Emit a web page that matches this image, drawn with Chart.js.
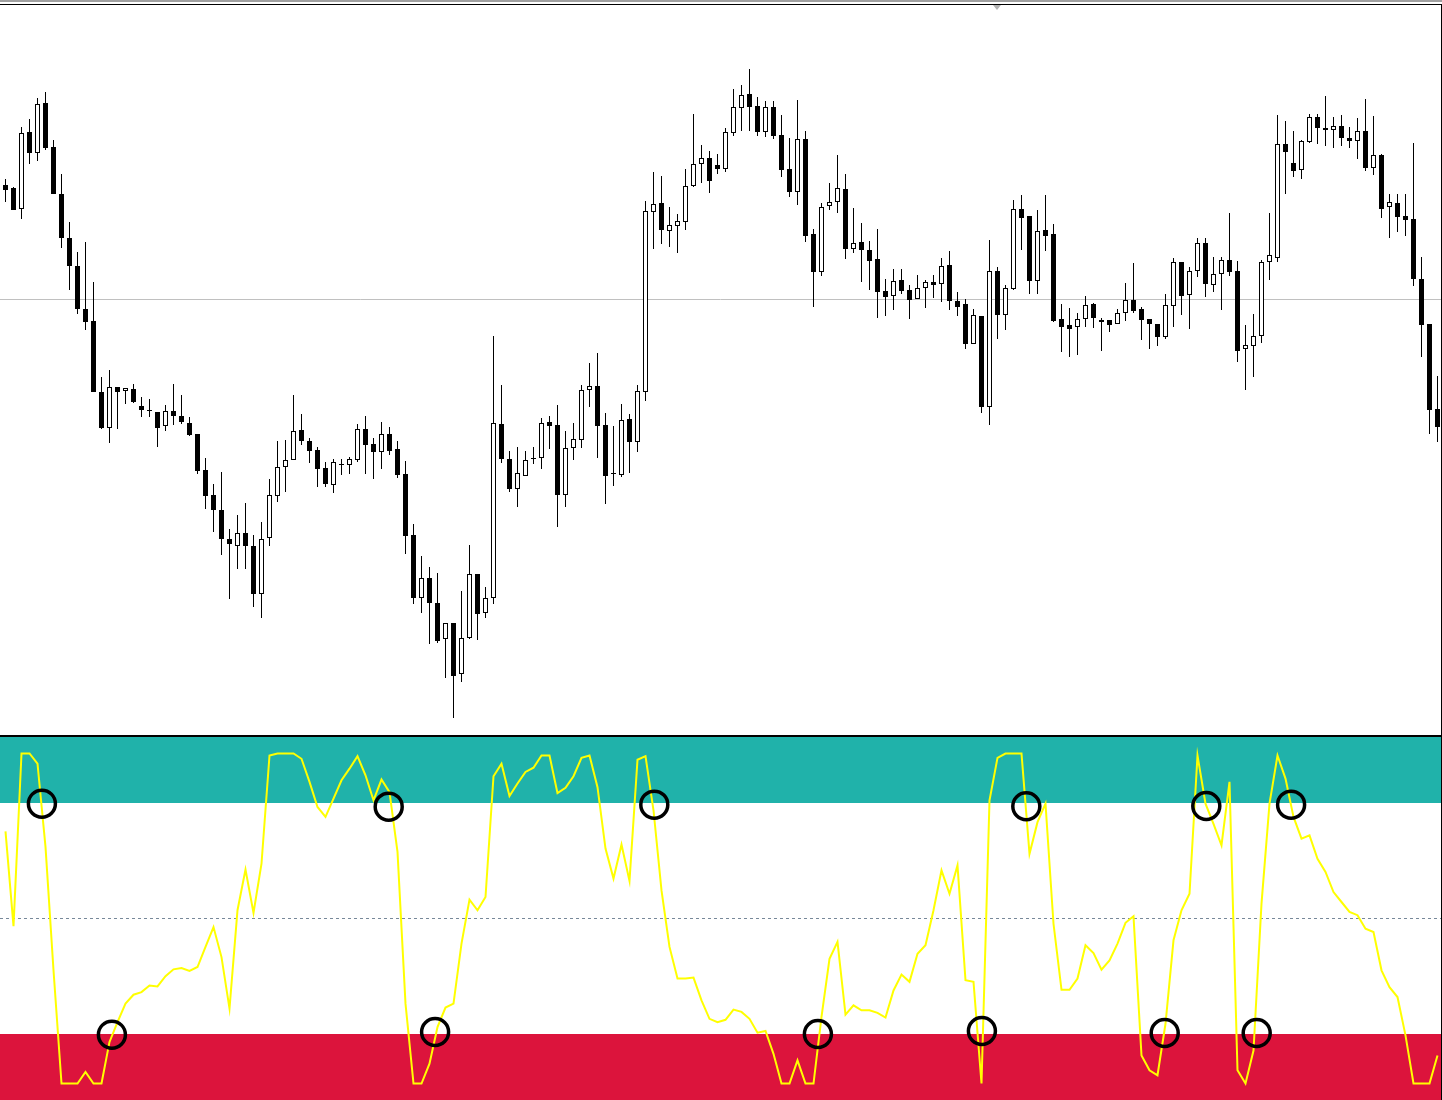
<!DOCTYPE html>
<html>
<head>
<meta charset="utf-8">
<title>Candles and oscillator</title>
<script src="https://cdn.jsdelivr.net/npm/chart.js@4.4.0/dist/chart.umd.min.js"></script>
<style>
  body { margin: 0; background: #fff; width: 1442px; height: 1100px; overflow: hidden; position: relative; }
  .frame-top { position: absolute; left: 0; top: 0; width: 1442px; height: 2px; background: #a0a0a0; }
  .frame-line { position: absolute; left: 0; top: 4px; width: 1442px; height: 1px; background: #000; }
  .frame-right { position: absolute; left: 1441px; top: 4px; width: 1px; height: 1096px; background: #000; }
  .separator { position: absolute; left: 0; top: 735px; width: 1442px; height: 2px; background: #000; }
  .shift-mark { position: absolute; left: 993px; top: 5px; width: 0; height: 0;
    border-left: 4px solid transparent; border-right: 4px solid transparent; border-top: 5px solid #b4b4b4; }
  #price { position: absolute; left: 0; top: 5px; }
  #osc { position: absolute; left: 0; top: 737px; }
</style>
</head>
<body>
<div class="frame-top"></div>
<div class="frame-line"></div>
<div class="shift-mark"></div>
<canvas id="price" width="1441" height="730"></canvas>
<div class="separator"></div>
<canvas id="osc" width="1441" height="363"></canvas>
<div class="frame-right"></div>
<script>
// candles, one per bar (price in points)
const openPrices = [550,547,526,603,582,632,588,541,497,469, 426,414,343,307,348,344,346,329,324,323, 309,324,319,312,301,265,240,225,196,189, 202,189,141,197,239,268,275,305,294,285, 267,250,270,270,275,306,291,283,301,286, 261,200,137,157,132,96,112,61,97,161, 122,137,311,276,246,259,276,277,313,310, 240,287,295,345,349,310,261,260,316,293, 343,523,532,504,509,513,549,571,577,570, 566,602,627,641,629,603,628,600,566,543, 596,501,463,529,533,546,486,493,485,476, 444,439,455,445,436,447,453,451,470,434, 431,391,419,328,464,420,446,526,519,454, 505,501,416,410,408,416,431,413,415,411, 422,435,426,416,411,398,429,473,440,464, 492,450,461,475,464,386,389,399,473,477, 591,572,565,593,618,607,605,609,597,594, 604,567,580,528,532,519,516,456,411,326];
const highPrices = [556,548,608,616,637,643,595,561,513,483, 493,453,358,365,348,347,351,338,336,323, 330,351,340,318,301,277,251,263,206,220, 232,200,213,256,294,295,340,321,297,288, 273,276,276,278,311,319,297,313,308,294, 274,211,179,168,162,112,112,144,190,161, 148,399,350,284,288,284,288,317,319,330, 304,312,350,372,382,322,309,331,321,350, 534,563,559,528,521,566,621,590,584,581, 607,646,650,666,638,634,634,620,597,635, 604,506,532,552,580,561,527,512,494,506, 456,466,466,450,460,455,460,477,484,443, 436,426,419,495,468,450,535,540,519,525, 540,511,431,427,422,439,432,417,415,426, 452,472,428,416,411,441,477,473,468,497, 497,478,478,522,474,410,421,475,522,620, 614,604,595,621,621,639,618,620,608,617, 636,619,581,541,541,541,592,478,411,359];
const lowPrices = [533,525,516,571,574,585,541,487,445,421, 405,343,306,292,306,331,332,318,318,288, 304,310,311,299,261,226,203,180,136,166, 166,128,117,189,233,243,275,290,272,248, 248,242,260,261,273,261,256,266,280,257, 181,131,122,91,92,57,17,53,96,95, 117,131,272,243,228,259,271,266,286,208, 228,275,287,328,277,231,249,258,262,283, 334,486,491,488,482,505,548,552,542,561, 563,599,604,604,599,598,596,558,538,530, 493,428,459,525,522,476,482,453,445,417, 419,425,441,416,436,427,437,433,425,419, 386,391,322,310,396,405,445,485,441,441, 484,413,383,378,380,408,407,384,403,411, 414,422,395,386,389,396,408,420,406,458, 438,443,425,459,373,345,358,392,455,473, 541,558,556,592,591,589,587,589,587,576, 564,560,517,497,503,499,449,378,301,293];
const closePrices = [545,525,602,582,631,587,541,497,469,426, 413,343,307,348,343,347,333,325,324,307, 324,319,313,300,264,239,225,196,191,202, 189,141,196,240,268,275,304,294,284,266, 251,273,271,276,306,290,283,301,284,260, 199,137,157,132,94,112,59,97,161,121, 137,312,276,246,262,275,277,312,309,240, 287,296,345,349,309,259,261,315,293,344, 524,531,505,510,514,549,571,577,554,566, 603,628,640,628,603,628,599,565,543,596, 499,463,528,533,547,486,492,485,474,443, 438,454,444,435,447,453,450,469,434,428, 391,420,328,464,420,447,526,517,454,504, 499,414,408,406,416,430,417,415,410,422, 435,424,415,411,398,430,473,439,464,492, 451,461,475,463,384,390,399,473,480,591, 583,564,594,618,607,605,609,597,594,604, 567,580,526,533,518,515,456,410,325,308];
const priceLine = 436;

// oscillator (0..100) and its levels
const oscillator = [76.4,47.7,100,100,96.9,71.7,34.3,0,0,0, 3.5,0,0,12.6,18.6,24.2,26.9,27.7,29.7,29.4, 32.5,34.6,35,34.1,35.3,41.4,47.4,38.3,22.7,52.5, 64.8,51.7,66.6,99.4,100,100,100,98.4,91.4,83.8, 80.8,86.3,91.9,95.4,99.2,93.4,85.8,92.1,88.3,70.2, 24.2,0,0,6,17.1,23,24.2,42.4,55.7,52.5, 56.5,93.1,96.9,87.1,90.9,94.4,95.7,99.4,99.4,88, 89.6,93.1,98.7,99.4,89.8,71.2,62.1,72.4,61.4,98.1, 99.2,82.8,58.5,41.4,31.8,31.8,32.1,25.2,19.6,18.6, 19.3,22.4,21.7,19.6,15.4,15.9,9,0,0,7, 0,0,20.2,37.8,42.9,20.9,23.7,22.2,22.2,21.4, 20,28.2,33,30.8,39.3,41.9,52.5,64.6,57.5,66.1, 31.3,30.8,0,85.8,98.7,100,100,100,69.6,79.2, 84.8,48.4,28.4,28.4,31.8,41.9,39.5,34.5,37.3,42.4, 48.7,50.7,8.5,4,2.5,18.1,43.4,52.5,57.5,99.4, 84.8,78.7,72.2,91.4,4,0,10,54.5,84.8,99.4, 92.4,80.8,74.2,75.2,68.1,64.1,58,55,52,51, 46.9,45.9,34.3,29.2,26.2,14.6,0,0,0,8.5];
const overbought = 85;
const middle = 50;
const oversold = 15;
const sellSignalX = [4.55, 47.9, 81.1, 127.6, 150.1, 160.7];
const sellSignalY = [84.8, 83.9, 84.5, 84, 84.1, 84.5];
const buySignalX = [13.3, 53.7, 101.55, 122.05, 144.9, 156.4];
const buySignalY = [14.8, 15.6, 15, 15.9, 15.3, 15.3];

const barIndex = openPrices.map((_, i) => i);
const xMin = -0.6875;
const xMax = xMin + 1441 / 8;

const priceLinePlugin = {
    id: "priceLine",
    beforeDatasetsDraw(chart) {
        const {ctx, chartArea, scales} = chart;
        const y = Math.round(scales.y.getPixelForValue(priceLine)) + 0.5;
        ctx.save();
        ctx.strokeStyle = "#c0c0c0";
        ctx.lineWidth = 1;
        ctx.beginPath();
        ctx.moveTo(chartArea.left, y);
        ctx.lineTo(chartArea.right, y);
        ctx.stroke();
        ctx.restore();
    },
};

new Chart(document.getElementById("price"), {
    type: "bar",
    data: {
        datasets: [
            {
                label: "Body",
                data: barIndex.map(i => ({x: i, y: [openPrices[i], closePrices[i]]})),
                backgroundColor: barIndex.map(i => closePrices[i] > openPrices[i] ? "#ffffff" : "#000000"),
                borderColor: "#000000",
                borderWidth: 1,
                borderSkipped: false,
                barThickness: 5,
                minBarLength: 1,
                grouped: false,
                inflateAmount: 0,
                order: 0,
            },
            {
                label: "Wick",
                data: barIndex.map(i => ({x: i, y: [lowPrices[i], highPrices[i]]})),
                backgroundColor: "#000000",
                borderWidth: 0,
                barThickness: 1,
                grouped: false,
                inflateAmount: 0,
                order: 1,
            },
        ],
    },
    options: {
        responsive: false,
        animation: false,
        layout: { padding: 0, autoPadding: false },
        plugins: {
            legend: { display: false },
            tooltip: { enabled: false },
        },
        scales: {
            x: { type: "linear", min: xMin, max: xMax, offset: false, display: false },
            y: { min: 0, max: 730, display: false },
        },
    },
    plugins: [priceLinePlugin],
});

const bandsPlugin = {
    id: "bands",
    beforeDatasetsDraw(chart) {
        const {ctx, chartArea, scales} = chart;
        const w = chartArea.right - chartArea.left;
        const yTop = scales.y.getPixelForValue(scales.y.max);
        const yOb = scales.y.getPixelForValue(overbought);
        const yOs = scales.y.getPixelForValue(oversold);
        const yBottom = scales.y.getPixelForValue(scales.y.min);
        const yMid = Math.round(scales.y.getPixelForValue(middle)) - 0.5;
        ctx.save();
        ctx.fillStyle = "#20b2aa";
        ctx.fillRect(chartArea.left, yTop, w, yOb - yTop);
        ctx.fillStyle = "#dc143c";
        ctx.fillRect(chartArea.left, yOs, w, yBottom - yOs);
        ctx.strokeStyle = "#778899";
        ctx.lineWidth = 1;
        ctx.setLineDash([3, 3]);
        ctx.beginPath();
        ctx.moveTo(chartArea.left, yMid);
        ctx.lineTo(chartArea.right, yMid);
        ctx.stroke();
        ctx.restore();
    },
};

new Chart(document.getElementById("osc"), {
    type: "line",
    data: {
        datasets: [
            {
                type: "scatter",
                label: "Signals",
                data: sellSignalX.map((x, i) => ({x: x, y: sellSignalY[i]}))
                    .concat(buySignalX.map((x, i) => ({x: x, y: buySignalY[i]}))),
                pointStyle: "circle",
                pointRadius: 13.5,
                pointBorderWidth: 3.5,
                pointBorderColor: "#000000",
                pointBackgroundColor: "rgba(0,0,0,0)",
                showLine: false,
                order: 0,
            },
            {
                label: "Oscillator",
                data: oscillator.map((v, i) => ({x: i, y: v})),
                borderColor: "#ffff00",
                borderWidth: 2,
                pointRadius: 0,
                tension: 0,
                fill: false,
                order: 1,
            },
        ],
    },
    options: {
        responsive: false,
        animation: false,
        layout: { padding: 0, autoPadding: false },
        plugins: {
            legend: { display: false },
            tooltip: { enabled: false },
        },
        scales: {
            x: { type: "linear", min: xMin, max: xMax, display: false },
            y: { min: -5, max: 105, display: false },
        },
    },
    plugins: [bandsPlugin],
});
</script>
</body>
</html>
